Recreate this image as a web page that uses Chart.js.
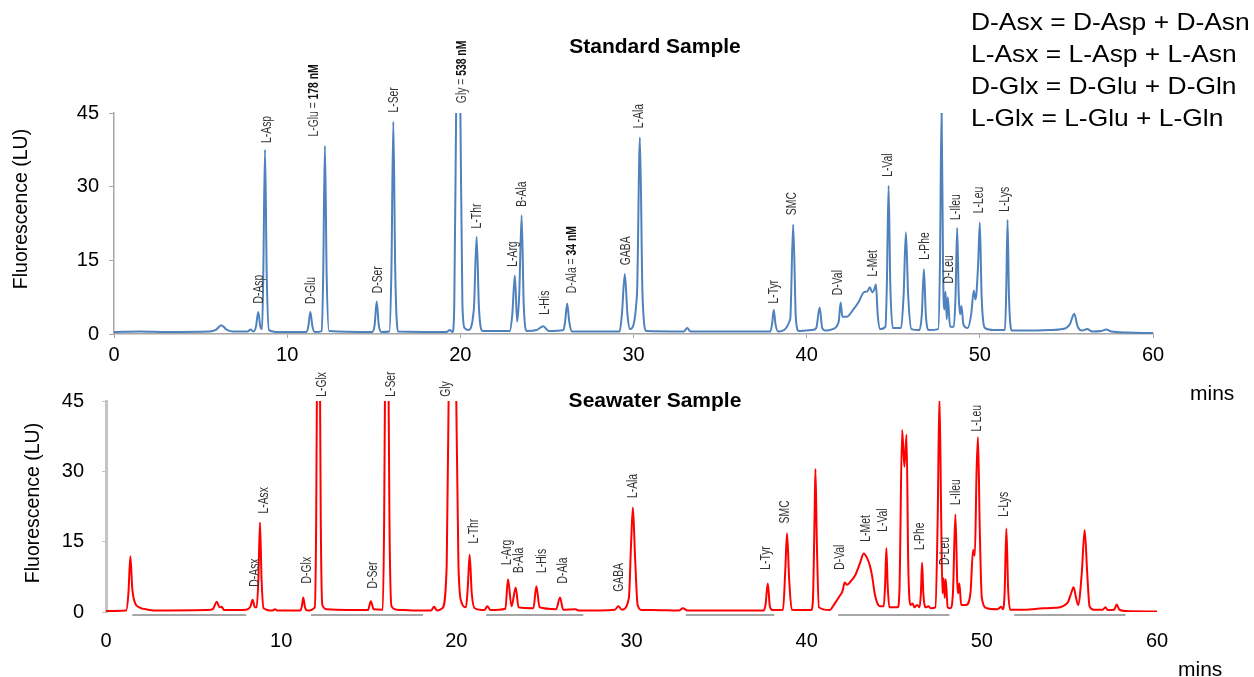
<!DOCTYPE html>
<html><head><meta charset="utf-8">
<script src="https://cdn.jsdelivr.net/npm/chart.js@4.4.0/dist/chart.umd.min.js"></script>
<style>
html,body{margin:0;padding:0;background:#fff;}
#wrap{position:relative;width:1254px;height:677px;overflow:hidden;background:#fff;}
canvas{position:absolute;left:0;top:0;}
.note{position:absolute;left:971px;top:6px;font:24px "Liberation Sans",Arial,sans-serif;line-height:32px;color:#000;white-space:nowrap;transform:scaleX(1.1);transform-origin:0 0;}
.mins{position:absolute;font:21px "Liberation Sans",Arial,sans-serif;color:#000;line-height:24px;}
</style></head><body>
<div id="wrap">
<canvas id="c1" width="1254" height="677"></canvas>
<canvas id="c2" width="1254" height="677"></canvas>
<div class="note">D-Asx = D-Asp + D-Asn<br>L-Asx = L-Asp + L-Asn<br>D-Glx = D-Glu + D-Gln<br>L-Glx = L-Glu + L-Gln</div>
<div class="mins" style="left:1190px;top:381px">mins</div>
<div class="mins" style="left:1178px;top:657px">mins</div>
</div>
<script>
// ---------- axis ticks ----------
const xTickValues = [0, 10, 20, 30, 40, 50, 60];
const yTickValues = [0, 15, 30, 45];

// ---------- Standard sample trace (time in min, fluorescence in LU) ----------
const stdTime = [
  0, 1.5, 3, 5.5, 5.9, 6.2, 6.5, 6.9, 7.7, 7.9, 8.05,
  8.2, 8.33, 8.45, 8.55, 8.62, 8.72, 8.82, 8.95, 9.5,
  11.1, 11.22, 11.34, 11.46, 11.6, 12.0, 12.08, 12.18, 12.28, 12.42,
  14.9, 15.05, 15.17, 15.29, 15.45, 15.9, 16.02, 16.13, 16.24, 16.4,
  19.2, 19.4, 19.55, 19.65, 19.77, 19.88, 19.99, 20.12, 20.25, 20.45,
  20.78, 20.94, 21.08, 21.3,
  22.85, 23.0, 23.15, 23.28, 23.4, 23.54, 23.66, 23.85,
  24.4, 24.79, 25.1, 25.95, 26.05, 26.17, 26.29, 26.45,
  29.2, 29.33, 29.5, 29.65, 29.8, 30.2, 30.37, 30.52, 30.75,
  32.9, 33.1, 33.3, 37.9, 38.0, 38.1, 38.2, 38.35,
  39.05, 39.22, 39.38, 39.55, 40.3, 40.55, 40.75, 40.9, 41.1,
  41.5, 41.85, 41.96, 42.06, 42.3, 42.7, 43.0, 43.3, 43.5, 43.65, 43.78, 43.9, 44.0, 44.1, 44.25,
  44.55, 44.63, 44.73, 44.83, 44.98,
  45.45, 45.6, 45.73, 45.86, 46.05,
  46.5, 46.65, 46.77, 46.88, 47.05,
  47.6, 47.7, 47.79, 47.88, 47.95, 48.02, 48.09, 48.15, 48.28,
  48.5, 48.6, 48.69, 48.78, 48.86, 48.94, 49.05,
  49.3, 49.5, 49.65, 49.75, 49.9, 50.0, 50.1, 50.3,
  50.8, 51.45, 51.52, 51.6, 51.68, 51.85,
  53.0, 54.0, 54.8, 55.2, 55.45, 55.65, 55.9, 56.2, 56.5, 57.0, 57.3, 57.6, 58.5, 60
];
const stdSignal = [
  0.4, 0.5, 0.4, 0.5, 0.9, 1.8, 0.9, 0.5, 0.5, 0.9, 0.5,
  1.5, 4.5, 1.5, 1.0, 12, 37.5, 12, 0.8, 0.4,
  0.4, 1.5, 4.5, 1.5, 0.4, 0.6, 12, 38.3, 12, 0.6,
  0.4, 1.8, 6.6, 1.8, 0.4, 0.5, 13, 43.2, 13, 0.5,
  0.4, 0.8, 0.4, 6, 50, 70, 50, 6, 1.2, 0.8,
  5, 19.8, 5, 0.6,
  0.6, 4, 11.9, 2.5, 8, 24.2, 6, 0.6,
  0.8, 1.6, 0.6, 0.8, 2.5, 6.2, 2.5, 0.5,
  0.5, 4, 12.2, 4, 1, 8, 40, 8, 0.6,
  0.5, 1.2, 0.5, 0.5, 2, 4.9, 2, 0.5,
  3, 22.3, 3, 0.6, 0.8, 1.2, 5.4, 1.2, 0.7,
  1.0, 2.5, 6.4, 3.5, 3.5, 5, 6.5, 8.5, 8.7, 9.5, 8.5, 9, 10.1, 4, 1.0,
  1.5, 10, 30.2, 10, 1.2,
  1.2, 8, 20.7, 8, 1.0,
  0.8, 4, 13.2, 4, 0.8,
  1, 15, 46, 12, 5, 8.6, 3, 7.5, 1.5,
  1.5, 8, 21.6, 8, 4, 5.7, 2,
  1.2, 4, 8.8, 7, 14, 22.7, 8, 1.2,
  0.8, 0.8, 8, 23.2, 8, 0.7,
  0.7, 0.8, 1.0, 2, 4.1, 1.5, 0.7, 1.0, 0.5, 0.6, 0.9, 0.5, 0.3, 0.2
];

// ---------- Seawater sample trace ----------
const seaTime = [
  0, 1.15, 1.28, 1.39, 1.5, 1.65, 1.9, 2.4, 3.0,
  5.8, 6.1, 6.33, 6.48, 6.6, 6.75,
  8.0, 8.25, 8.37, 8.5, 8.6, 8.7, 8.79, 8.88, 9.0, 9.5, 9.64, 9.8,
  11.1, 11.18, 11.26, 11.36, 11.5,
  11.92, 12.0, 12.06, 12.13, 12.2, 12.26, 12.35, 12.6,
  14.95, 15.12, 15.28,
  15.8, 15.88, 15.95, 16.03, 16.11, 16.18, 16.3, 16.6,
  17.5, 18.55, 18.73, 18.9,
  19.2, 19.45, 19.6, 19.78, 19.95, 20.12, 20.3, 20.55,
  20.65, 20.76, 20.88, 21.05, 21.6, 21.77, 21.95,
  22.8, 22.95, 23.15, 23.39, 23.55, 24.4, 24.57, 24.75,
  25.7, 25.92, 26.1, 26.8, 27.0,
  29.05, 29.25, 29.45, 29.85, 29.98, 30.08, 30.2, 30.35, 30.6, 31.2,
  32.7, 32.93, 33.2,
  37.55, 37.65, 37.78, 37.9, 38.05,
  38.65, 38.78, 38.88, 39.0, 39.15,
  40.25, 40.35, 40.45, 40.5, 40.58, 40.7,
  41.3, 41.6, 41.9, 42.05, 42.17, 42.3, 42.5, 42.78, 43.05, 43.26, 43.45, 43.6, 43.74, 43.88, 44.02, 44.2,
  44.4, 44.48, 44.55, 44.62, 44.72,
  45.2, 45.3, 45.45, 45.58, 45.7, 45.8, 45.92, 46.05, 46.15, 46.3, 46.45,
  46.52, 46.59, 46.66, 46.8, 46.95, 47.1,
  47.35, 47.48, 47.58, 47.68, 47.75, 47.82, 47.88, 47.94, 48.05, 48.2,
  48.35, 48.49, 48.6, 48.65, 48.72, 48.82,
  49.1, 49.35, 49.5, 49.6, 49.7, 49.78, 49.88, 50.0, 50.3,
  50.9, 51.1, 51.2, 51.3, 51.4, 51.5, 51.62,
  52.5, 53.5, 54.2, 54.9, 55.1, 55.24, 55.38, 55.5, 55.7, 55.87, 56.02, 56.15, 56.4,
  56.9, 57.05, 57.2, 57.55, 57.7, 57.85, 58.2, 60
];
const seaSignal = [
  0.2, 0.3, 4, 11.9, 5, 2, 1.0, 0.5, 0.3,
  0.4, 0.6, 2.2, 1.0, 1.1, 0.4,
  0.5, 1.2, 2.6, 1.0, 1.0, 7, 19.1, 7, 0.8, 0.3, 0.6, 0.3,
  0.3, 1.2, 3.1, 1.0, 0.3,
  1, 20, 60, 80, 60, 20, 1.5, 0.6,
  0.4, 2.3, 0.6,
  0.5, 20, 60, 80, 60, 20, 1.2, 0.5,
  0.3, 0.3, 1.1, 0.3,
  0.8, 10, 60, 90, 60, 10, 2, 1,
  5, 12.2, 4, 0.8, 0.4, 1.2, 0.4,
  0.7, 7.0, 1.2, 5.2, 1.0, 0.8, 5.5, 1.0,
  0.6, 3.1, 0.5, 0.6, 0.3,
  0.5, 1.2, 0.5, 3, 15, 22.3, 12, 1.5, 0.4, 0.4,
  0.3, 0.8, 0.3,
  0.3, 1.5, 6.1, 1.2, 0.4,
  0.5, 9, 16.8, 7, 0.5,
  0.4, 2, 20, 30.5, 15, 1.0,
  0.4, 1.8, 3.5, 4.5, 6.3, 5.8, 6.5, 7.9, 10.5, 12.5, 11.5, 10, 7.6, 4, 2.0, 1.2,
  1.2, 6, 13.6, 6, 1.0,
  1.0, 5, 38.8, 31, 37.8, 10, 1.5, 1.8, 1.0, 1.5, 1.0,
  4, 10.5, 4, 1.0, 1.2, 0.8,
  1.0, 20, 46, 20, 4, 7.2, 3, 7.0, 1.0, 0.8,
  4, 20.8, 6, 4, 6.1, 1.5,
  1.5, 4, 13.2, 12, 30, 37.3, 18, 3, 0.8,
  0.6, 1.1, 0.6, 4, 17.8, 5, 0.5,
  0.5, 0.8, 0.9, 2.0, 4, 5.3, 3, 1.5, 8, 17.5, 8, 1.2, 0.5,
  0.5, 1.0, 0.4, 0.5, 1.6, 0.5, 0.2, 0.1
];
// grey baseline segments drawn under the seawater trace (min)
const seaBaseSegStart = [1.5, 11.7, 21.7, 33.1, 41.8, 51.85];
const seaBaseSegEnd   = [8.0, 18.1, 27.25, 38.15, 48.15, 58.2];

// ---------- peak labels ----------
const stdLabelNames = ['D-Asp','L-Asp','L-Glu = 178 nM','D-Glu','D-Ser','L-Ser','Gly = 538 nM','L-Thr','L-Arg','B-Ala','L-His','D-Ala = 34 nM','GABA','L-Ala','L-Tyr','SMC','D-Val','L-Met','L-Val','L-Phe','D-Leu','L-Ileu','L-Leu','L-Lys'];
const stdLabelTimes = [8.36, 8.85, 11.55, 11.41, 15.24, 16.17, 20.12, 20.99, 23.04, 23.56, 24.88, 26.47, 29.55, 30.31, 38.1, 39.17, 41.8, 43.82, 44.69, 46.82, 48.2, 48.65, 49.94, 51.44];
const stdLabelLevels = [6.2, 38.9, 40.2, 6.1, 8.3, 45.1, 47, 21.5, 13.7, 25.9, 3.9, 8.3, 14, 41.9, 6.2, 24.2, 7.9, 11.7, 32, 15.1, 10.3, 23.2, 24.6, 24.9];

const seaLabelNames = ['D-Asx','L-Asx','D-Glx','L-Glx','D-Ser','L-Ser','Gly','L-Thr','L-Arg','B-Ala','L-His','D-Ala','GABA','L-Ala','L-Tyr','SMC','D-Val','L-Met','L-Val','L-Phe','D-Leu','L-Ileu','L-Leu','L-Lys'];
const seaLabelTimes = [8.5, 9.05, 11.46, 12.32, 15.26, 16.26, 19.4, 21.0, 22.9, 23.6, 24.9, 26.1, 29.28, 30.09, 37.7, 38.79, 41.93, 43.4, 44.38, 46.49, 47.92, 48.55, 49.74, 51.28];
const seaLabelLevels = [5.4, 21, 6.1, 45.9, 5.0, 45.9, 45.9, 14.6, 10, 8.3, 8.3, 6.1, 4.3, 24.3, 9, 18.9, 9, 15, 17.1, 13.2, 10, 22.8, 38.5, 20.3];

// ---------- drawing ----------
const SANS = '"Liberation Sans", Arial, sans-serif';
const NARROW = '"Liberation Sans Narrow", "Liberation Sans", sans-serif';

function toPoints(t, v) { return t.map((x, i) => ({x: x, y: v[i]})); }

function makeOverlay(cfg) {
  return {
    id: 'overlay',
    afterDraw(chart) {
      const ctx = chart.ctx, xs = chart.scales.x, ys = chart.scales.y, ca = chart.chartArea;
      ctx.save();
      // baseline segments
      if (cfg.segStart) {
        ctx.strokeStyle = '#a6a6a6'; ctx.lineWidth = 2;
        cfg.segStart.forEach((s, i) => {
          ctx.beginPath();
          ctx.moveTo(xs.getPixelForValue(s), ca.bottom + 3);
          ctx.lineTo(xs.getPixelForValue(cfg.segEnd[i]), ca.bottom + 3);
          ctx.stroke();
        });
      }
      // peak labels (condensed, rotated)
      ctx.textBaseline = 'middle'; ctx.textAlign = 'left';
      cfg.names.forEach((name, i) => {
        const px = xs.getPixelForValue(cfg.times[i]);
        const py = ys.getPixelForValue(cfg.levels[i]);
        ctx.save();
        ctx.translate(px, py);
        ctx.rotate(-Math.PI / 2);
        ctx.scale(0.74, 1);
        const k = name.indexOf('= ');
        if (k >= 0) {
          const a = name.slice(0, k + 2), b = name.slice(k + 2);
          ctx.font = '14px ' + NARROW;
          ctx.fillStyle = '#444';
          ctx.fillText(a, 0, 0);
          const w = ctx.measureText(a).width;
          ctx.font = 'bold 14px ' + NARROW;
          ctx.fillStyle = '#111';
          ctx.fillText(b, w, 0);
        } else {
          ctx.font = '14px ' + NARROW;
          ctx.fillStyle = '#333';
          ctx.fillText(name, 0, 0);
        }
        ctx.restore();
      });
      // chart title
      ctx.fillStyle = '#000';
      ctx.font = 'bold 21px ' + SANS;
      ctx.textAlign = 'center'; ctx.textBaseline = 'middle';
      ctx.fillText(cfg.title, cfg.titleX, cfg.titleY);
      // y axis title
      ctx.save();
      ctx.translate(cfg.yTitleX, cfg.yTitleY);
      ctx.rotate(-Math.PI / 2);
      ctx.font = '19.5px ' + SANS;
      ctx.fillText('Fluorescence (LU)', 0, 0);
      ctx.restore();
      ctx.restore();
    }
  };
}

function makeChart(id, o) {
  return new Chart(document.getElementById(id), {
    type: 'line',
    data: { datasets: [{
      data: toPoints(o.time, o.signal),
      borderColor: o.color, borderWidth: 2, pointRadius: 0,
      fill: false, cubicInterpolationMode: 'monotone'
    }]},
    options: {
      responsive: false, animation: false, events: [],
      layout: { padding: o.padding },
      plugins: { legend: { display: false }, tooltip: { enabled: false } },
      scales: {
        x: {
          type: 'linear', min: 0, max: 60,
          afterBuildTicks: s => { s.ticks = xTickValues.map(v => ({value: v})); },
          ticks: { font: {size: 20, family: SANS}, color: '#000', padding: o.xPad, maxRotation: 0, autoSkip: false },
          grid: { display: o.xGrid, drawOnChartArea: false, tickLength: 4, color: '#a6a6a6' },
          border: { display: o.xGrid, color: '#a6a6a6', width: 1.5 },
          afterFit: s => { s.height = 50; }
        },
        y: {
          min: 0, max: 45,
          afterBuildTicks: s => { s.ticks = yTickValues.map(v => ({value: v})); },
          ticks: { font: {size: 20, family: SANS}, color: '#000', padding: o.yPad },
          grid: { drawOnChartArea: false, tickLength: o.yTick, color: o.yColor },
          border: { color: o.yColor, width: o.yWidth },
          afterFit: s => { s.width = o.yWidthPx; }
        }
      }
    },
    plugins: [makeOverlay(o.overlay)]
  });
}

makeChart('c1', {
  time: stdTime, signal: stdSignal, color: '#4f81bd',
  padding: {left: 0, top: 113, right: 101, bottom: 293},
  xPad: 5, xGrid: true, yPad: 10, yTick: 5, yColor: '#a6a6a6', yWidth: 1.5, yWidthPx: 114,
  overlay: { names: stdLabelNames, times: stdLabelTimes, levels: stdLabelLevels,
             title: 'Standard Sample', titleX: 655, titleY: 47, yTitleX: 22, yTitleY: 209 }
});

makeChart('c2', {
  time: seaTime, signal: seaSignal, color: '#ff0000',
  padding: {left: 0, top: 401, right: 97, bottom: 15},
  xPad: 13, xGrid: false, yPad: 18, yTick: 4, yColor: '#c4c4c4', yWidth: 3, yWidthPx: 106,
  overlay: { names: seaLabelNames, times: seaLabelTimes, levels: seaLabelLevels,
             segStart: seaBaseSegStart, segEnd: seaBaseSegEnd,
             title: 'Seawater Sample', titleX: 655, titleY: 401, yTitleX: 34, yTitleY: 503 }
});
</script>
</body></html>
